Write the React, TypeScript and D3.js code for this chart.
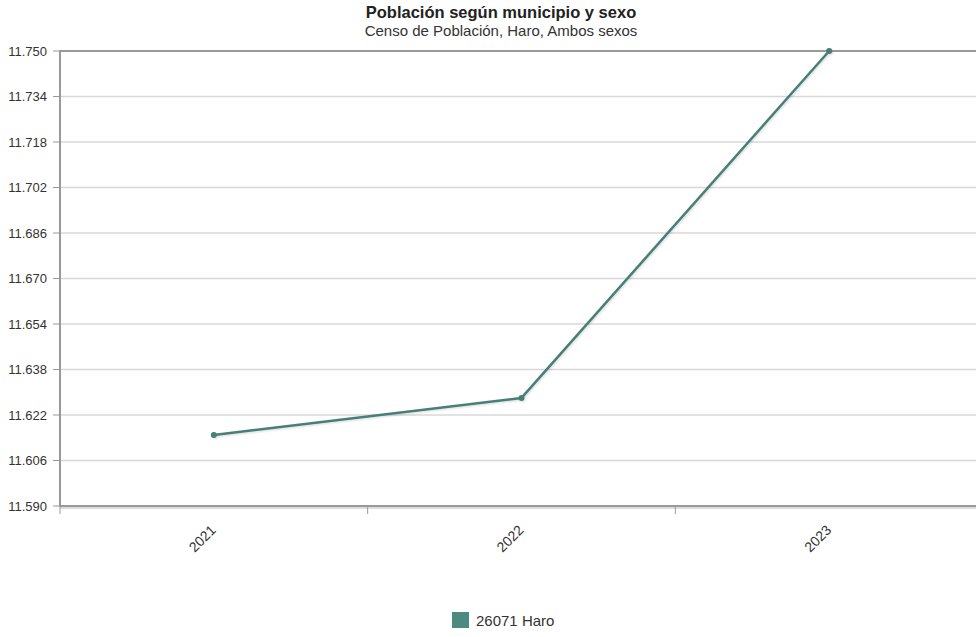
import React from "react";
import * as d3 from "d3";

const years = ["2021", "2022", "2023"];
const values = [11615, 11628, 11750];
const yTicks = [11590, 11606, 11622, 11638, 11654, 11670, 11686, 11702, 11718, 11734, 11750];
const seriesName = "26071 Haro";
const title = "Población según municipio y sexo";
const subtitle = "Censo de Población, Haro, Ambos sexos";

const W = 976;
const H = 637;
const left = 60;
const right = 983;
const top = 51;
const bottom = 506;
const color = "#477f77";

const fmt = (v: number) => {
  const s = String(v);
  return s.slice(0, s.length - 3) + "." + s.slice(s.length - 3);
};

export default function App() {
  const x = d3.scaleBand<string>().domain(years).range([left, right]);
  const y = d3.scaleLinear().domain([11590, 11750]).range([bottom, top]);
  const line = d3
    .line<number>()
    .x((_, i) => (x(years[i]) as number) + x.bandwidth() / 2)
    .y((d) => y(d));

  const boundaries = years.map((yr) => x(yr) as number).concat([right]);

  return (
    <div style={{ position: "absolute", left: 0, top: 0 }}>
      <svg width={W} height={H} style={{ display: "block", fontFamily: "'Liberation Sans', Arial, sans-serif" }}>
        <defs>
          <filter id="sh" x="-10%" y="-10%" width="120%" height="120%">
            <feDropShadow dx="1" dy="1" stdDeviation="1" floodColor="#000" floodOpacity="0.15" />
          </filter>
        </defs>
        <rect width={W} height={H} fill="#fff" />
        <text x={501} y={18} textAnchor="middle" fontSize={16.5} fontWeight="bold" fill="#222">
          {title}
        </text>
        <text x={501} y={36} textAnchor="middle" fontSize={15} fill="#333">
          {subtitle}
        </text>
        {/* grid */}
        {yTicks.map((t) => (
          <line key={t} x1={left} x2={right} y1={y(t)} y2={y(t)} stroke={t === 11750 ? "#999" : "#d8d8d8"} strokeWidth={t === 11750 ? 2 : 1.5} />
        ))}
        {/* y ticks and labels */}
        {yTicks.map((t) => (
          <g key={"l" + t}>
            <line x1={left - 7} x2={left} y1={y(t)} y2={y(t)} stroke="#999" strokeWidth={1} />
            <text x={left - 13} y={y(t) + 4.5} textAnchor="end" fontSize={13} fill="#333">
              {fmt(t)}
            </text>
          </g>
        ))}
        {/* axes */}
        <line x1={left} x2={left} y1={top - 1} y2={bottom + 1} stroke="#999" strokeWidth={2} />
        <line x1={left} x2={right} y1={bottom + 2} y2={bottom + 2} stroke="#ddd" strokeWidth={2} />
        <line x1={left - 1} x2={right} y1={bottom} y2={bottom} stroke="#999" strokeWidth={2} />
        {boundaries.map((b, i) => (
          <line key={"b" + i} x1={b} x2={b} y1={bottom} y2={bottom + 8} stroke="#999" strokeWidth={1} />
        ))}
        {/* x labels */}
        {years.map((yr) => {
          const cx = (x(yr) as number) + x.bandwidth() / 2 + 3;
          const cy = bottom + 25;
          return (
            <text key={yr} x={cx} y={cy} transform={`rotate(-45 ${cx} ${cy})`} textAnchor="end" fontSize={14} fill="#333">
              {yr}
            </text>
          );
        })}
        {/* series */}
        <g filter="url(#sh)">
          <path d={line(values) as string} fill="none" stroke={color} strokeWidth={2.5} strokeLinejoin="round" />
          {values.map((v, i) => (
            <circle key={i} cx={(x(years[i]) as number) + x.bandwidth() / 2} cy={y(v)} r={3} fill={color} />
          ))}
        </g>
        {/* legend */}
        <rect x={452} y={612} width={17} height={16} fill="#4a8a80" />
        <text x={476} y={626} fontSize={15} fill="#333">
          {seriesName}
        </text>
      </svg>
    </div>
  );
}
